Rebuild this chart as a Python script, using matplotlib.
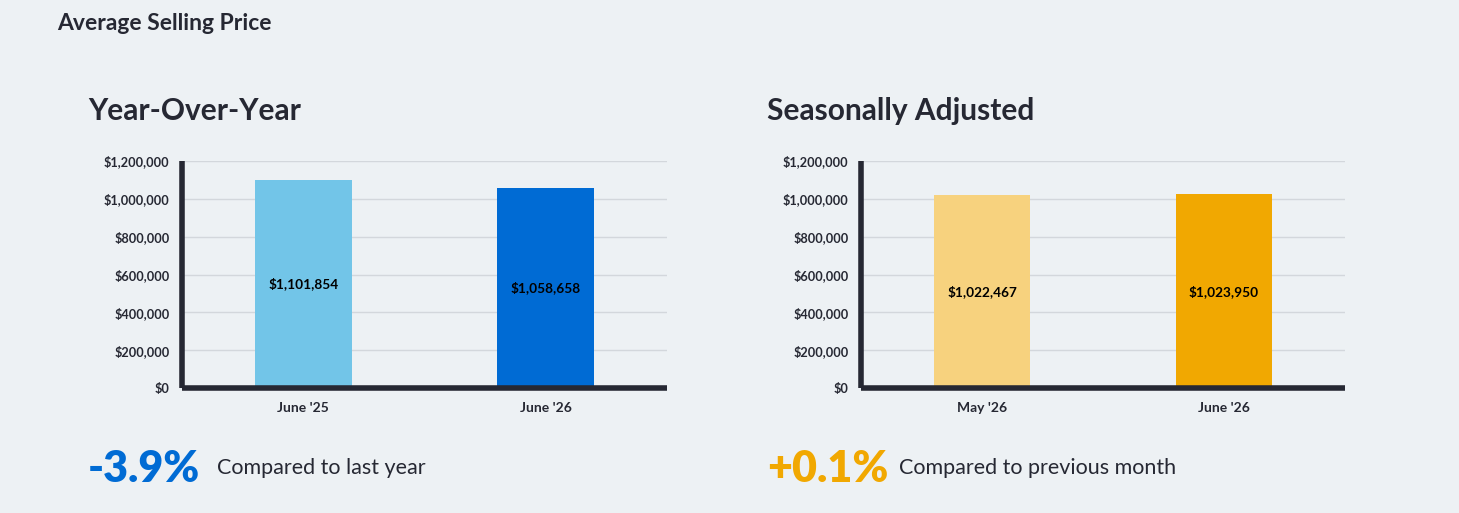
import matplotlib.pyplot as plt
from matplotlib.ticker import FuncFormatter

# data
yoy_labels = ["June '25", "June '26"]
yoy_values = [1101854, 1058658]
yoy_colors = ["#72c5e8", "#006bd4"]

sa_labels = ["May '26", "June '26"]
sa_values = [1022467, 1023950]
sa_colors = ["#f7d27e", "#f1a801"]

yoy_change = "-3.9%"
sa_change = "+0.1%"

BG = "#edf1f4"
DARK = "#262833"
GRID = "#d3d7dc"

plt.rcParams["font.family"] = ["Lato", "DejaVu Sans"]

W, H = 1459, 513
fig = plt.figure(figsize=(W / 100, H / 100), dpi=100, facecolor=BG)


def px_axes(x0, x1, ytop, ybot):
    return fig.add_axes([x0 / W, 1 - ybot / H, (x1 - x0) / W, (ybot - ytop) / H])


def bar_panel(ax, labels, values, colors):
    ax.set_facecolor(BG)
    x = range(len(values))
    ax.bar(x, values, width=0.4, color=colors, zorder=3)
    for xi, v in zip(x, values):
        ax.text(xi, v / 2, f"${v:,.0f}", ha="center", va="center",
                fontsize=9.8, fontweight="bold", color="black", zorder=4)
    ax.set_xlim(-0.5, 1.5)
    ax.set_ylim(0, 1200000)
    ax.set_yticks(range(0, 1200001, 200000))
    ax.yaxis.set_major_formatter(FuncFormatter(lambda v, p: f"${v:,.0f}"))
    ax.set_xticks(list(x))
    ax.set_xticklabels(labels)
    ax.grid(axis="y", color=GRID, linewidth=1, zorder=0)
    for s in ["top", "right"]:
        ax.spines[s].set_visible(False)
    for s in ["left", "bottom"]:
        ax.spines[s].set_linewidth(4)
        ax.spines[s].set_color(DARK)
        ax.spines[s].set_capstyle("butt")
        ax.spines[s].set_zorder(5)
    ax.tick_params(axis="y", length=0, pad=9, labelsize=9.2, colors=DARK)
    ax.tick_params(axis="x", length=0, pad=10, labelsize=10, colors=DARK)
    for t in ax.get_xticklabels() + ax.get_yticklabels():
        t.set_fontweight("bold")


ax1 = px_axes(182, 667, 161, 388)
bar_panel(ax1, yoy_labels, yoy_values, yoy_colors)
ax2 = px_axes(861, 1345, 161, 388)
bar_panel(ax2, sa_labels, sa_values, sa_colors)

fig.text(57 / W, 1 - 24 / H, "Average Selling Price", fontsize=16.5,
         fontweight="bold", color=DARK, va="center")
fig.text(88 / W, 1 - 111 / H, "Year-Over-Year", fontsize=21.5,
         fontweight="bold", color=DARK, va="center")
fig.text(767 / W, 1 - 111 / H, "Seasonally Adjusted", fontsize=21.5,
         fontweight="bold", color=DARK, va="center")

fig.text(88 / W, 1 - 469 / H, yoy_change, fontsize=31, fontweight="heavy",
         color=yoy_colors[1], va="center")
fig.text(217 / W, 1 - 468 / H, "Compared to last year", fontsize=15.5,
         color=DARK, va="center")
fig.text(767 / W, 1 - 469 / H, sa_change, fontsize=31, fontweight="heavy",
         color=sa_colors[1], va="center")
fig.text(899 / W, 1 - 468 / H, "Compared to previous month", fontsize=15.5,
         color=DARK, va="center")

fig.savefig("out.png", dpi=100, facecolor=BG)
